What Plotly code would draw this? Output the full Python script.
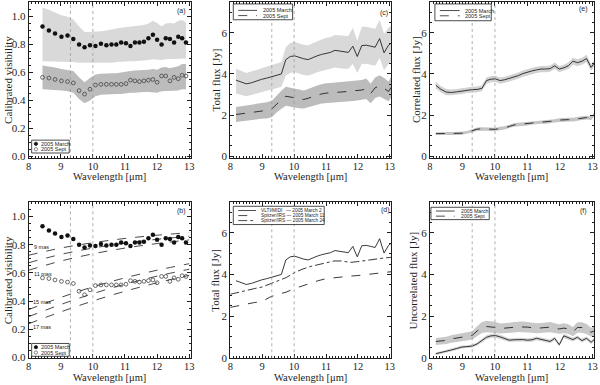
import plotly.graph_objects as go

W, H = 600, 385
SERIF = "Liberation Serif, Times New Roman, Times, DejaVu Serif, serif"
SANS = "Liberation Sans, Arial, DejaVu Sans, sans-serif"
INK = "#1e1e1e"

# ---------------- visibility data (panels a, b) ----------------
vis_wl = [8.43, 8.63, 8.82, 9.02, 9.21, 9.39, 9.57, 9.74, 9.91, 10.08, 10.25, 10.42, 10.58, 10.73, 10.88,
          11.03, 11.17, 11.31, 11.45, 11.59, 11.73, 11.87, 12.00, 12.14, 12.27, 12.40, 12.53, 12.66, 12.78, 12.90]
vis_march = [0.93, 0.90, 0.88, 0.855, 0.865, 0.84, 0.80, 0.78, 0.795, 0.79, 0.805, 0.795, 0.80, 0.80, 0.815,
             0.81, 0.79, 0.815, 0.815, 0.82, 0.845, 0.87, 0.835, 0.80, 0.845, 0.84, 0.815, 0.855, 0.845, 0.815]
vis_march_hi = [1.065, 1.05, 1.03, 1.01, 1.00, 0.98, 0.93, 0.89, 0.89, 0.89, 0.895, 0.90, 0.91, 0.915, 0.92,
                0.925, 0.925, 0.93, 0.935, 0.94, 0.95, 0.97, 0.955, 0.93, 0.95, 0.955, 0.95, 0.97, 0.975, 0.96]
vis_march_lo = [0.68, 0.68, 0.68, 0.68, 0.675, 0.675, 0.67, 0.665, 0.665, 0.665, 0.67, 0.67, 0.67, 0.675, 0.675,
                0.68, 0.68, 0.68, 0.685, 0.685, 0.69, 0.695, 0.695, 0.69, 0.695, 0.695, 0.695, 0.70, 0.70, 0.70]
vis_sept = [0.565, 0.56, 0.55, 0.54, 0.535, 0.525, 0.47, 0.445, 0.48, 0.51, 0.515, 0.515, 0.515, 0.515, 0.515,
            0.52, 0.545, 0.54, 0.535, 0.54, 0.545, 0.55, 0.53, 0.575, 0.575, 0.54, 0.565, 0.555, 0.58, 0.575]
vis_sept_hi = [0.65, 0.645, 0.635, 0.625, 0.62, 0.61, 0.565, 0.53, 0.56, 0.585, 0.59, 0.595, 0.595, 0.595, 0.60,
               0.60, 0.61, 0.615, 0.615, 0.62, 0.62, 0.625, 0.62, 0.635, 0.64, 0.63, 0.64, 0.645, 0.66, 0.66]
vis_sept_lo = [0.48, 0.48, 0.475, 0.47, 0.465, 0.455, 0.41, 0.38, 0.40, 0.43, 0.44, 0.44, 0.445, 0.445, 0.445,
               0.45, 0.455, 0.455, 0.455, 0.46, 0.46, 0.46, 0.455, 0.465, 0.47, 0.465, 0.47, 0.47, 0.48, 0.48]

# model curves (panel b)
model_wl = [8, 9, 10, 11, 12, 13]
model_9mas = [0.725, 0.776, 0.814, 0.844, 0.867, 0.885]
model_10mas = [0.672, 0.731, 0.776, 0.811, 0.838, 0.860]
model_11mas = [0.619, 0.684, 0.735, 0.776, 0.808, 0.834]
model_15mas = [0.340, 0.426, 0.501, 0.565, 0.619, 0.665]
model_16mas = [0.290, 0.376, 0.453, 0.520, 0.577, 0.626]
model_17mas = [0.240, 0.324, 0.401, 0.470, 0.530, 0.583]

# ---------------- flux data (panels c, d, e, f) ----------------
flux_wl = [8.18, 8.34, 8.50, 8.66, 8.82, 8.98, 9.14, 9.30, 9.45, 9.60, 9.74, 9.88, 10.02, 10.16, 10.30, 10.44,
           10.58, 10.72, 10.86, 11.00, 11.14, 11.28, 11.42, 11.56, 11.70, 11.84, 11.98, 12.12, 12.26, 12.40,
           12.54, 12.68, 12.82, 12.96, 13.08]
tot_march = [3.70, 3.60, 3.52, 3.57, 3.66, 3.74, 3.80, 3.86, 3.92, 4.00, 4.70, 4.85, 4.88, 4.80, 4.74, 4.70,
             4.80, 4.88, 4.95, 5.00, 5.05, 5.15, 5.12, 5.07, 5.05, 5.35, 4.85, 5.38, 5.40, 5.35,
             5.30, 5.72, 5.03, 5.40, 5.55]
tot_march_hi = [4.25, 4.15, 4.05, 4.12, 4.20, 4.28, 4.35, 4.42, 4.48, 4.58, 5.30, 5.50, 5.55, 5.48, 5.42, 5.40,
                5.50, 5.60, 5.68, 5.75, 5.80, 5.90, 5.88, 5.85, 5.85, 6.25, 5.62, 6.30, 6.30, 6.25,
                6.20, 6.62, 5.95, 6.25, 6.40]
tot_march_lo = [3.05, 2.98, 2.92, 2.98, 3.05, 3.12, 3.18, 3.24, 3.30, 3.38, 3.92, 4.05, 4.08, 4.00, 3.95, 3.92,
                4.00, 4.08, 4.15, 4.20, 4.25, 4.32, 4.30, 4.26, 4.25, 4.48, 4.05, 4.48, 4.50, 4.45,
                4.40, 4.78, 4.18, 4.50, 4.62]
tot_sept = [2.03, 2.06, 2.10, 2.13, 2.17, 2.20, 2.23, 2.30, 2.55, 2.75, 2.92, 2.88, 2.82, 2.78, 2.76, 2.82,
            2.90, 2.97, 3.03, 3.07, 3.08, 3.10, 3.12, 3.14, 3.15, 3.18, 3.20, 3.22, 3.28, 3.05,
            3.33, 3.42, 3.30, 3.15, 3.45]
tot_sept_err = [0.36, 0.36, 0.37, 0.37, 0.38, 0.38, 0.39, 0.40, 0.42, 0.44, 0.46, 0.45, 0.45, 0.44, 0.44, 0.45,
                0.46, 0.47, 0.47, 0.48, 0.48, 0.48, 0.48, 0.48, 0.48, 0.49, 0.49, 0.49, 0.50, 0.47,
                0.50, 0.52, 0.50, 0.48, 0.52]
corr_march = [3.45, 3.25, 3.12, 3.10, 3.13, 3.17, 3.21, 3.24, 3.25, 3.30, 3.68, 3.75, 3.76, 3.68, 3.72, 3.78,
              3.84, 3.92, 4.02, 4.10, 4.15, 4.20, 4.24, 4.24, 4.26, 4.40, 4.24, 4.30, 4.40, 4.62,
              4.55, 4.62, 4.75, 4.32, 4.58]
corr_march_err = [0.16, 0.15, 0.15, 0.14, 0.14, 0.14, 0.14, 0.14, 0.14, 0.14, 0.15, 0.15, 0.15, 0.15, 0.15, 0.15,
                  0.15, 0.15, 0.15, 0.15, 0.15, 0.15, 0.15, 0.15, 0.15, 0.16, 0.15, 0.15, 0.16, 0.17,
                  0.16, 0.17, 0.18, 0.16, 0.17]
corr_sept = [1.10, 1.10, 1.10, 1.10, 1.11, 1.12, 1.16, 1.23, 1.32, 1.33, 1.32, 1.30, 1.31, 1.35, 1.38, 1.45,
             1.52, 1.55, 1.57, 1.58, 1.62, 1.65, 1.66, 1.66, 1.68, 1.72, 1.76, 1.78, 1.78, 1.78,
             1.80, 1.85, 1.88, 1.85, 2.08]
corr_sept_err = [0.07, 0.07, 0.07, 0.07, 0.07, 0.07, 0.07, 0.07, 0.08, 0.08, 0.08, 0.08, 0.08, 0.08, 0.08, 0.08,
                 0.08, 0.08, 0.08, 0.08, 0.08, 0.08, 0.08, 0.08, 0.08, 0.08, 0.09, 0.09, 0.09, 0.09,
                 0.09, 0.09, 0.09, 0.09, 0.10]
unc_sept = [0.78, 0.80, 0.83, 0.90, 0.95, 0.98, 1.02, 1.07, 1.28, 1.45, 1.50, 1.48, 1.45, 1.40, 1.41, 1.44,
            1.46, 1.48, 1.49, 1.47, 1.44, 1.41, 1.43, 1.46, 1.47, 1.42, 1.38, 1.42, 1.38, 1.25,
            1.45, 1.45, 1.38, 1.22, 1.30]
unc_sept_err = [0.17, 0.17, 0.17, 0.18, 0.18, 0.18, 0.19, 0.20, 0.23, 0.26, 0.28, 0.27, 0.26, 0.24, 0.24, 0.24,
                0.25, 0.25, 0.25, 0.25, 0.24, 0.24, 0.24, 0.25, 0.25, 0.24, 0.23, 0.24, 0.23, 0.22,
                0.25, 0.25, 0.24, 0.22, 0.23]
unc_march = [0.19, 0.24, 0.30, 0.37, 0.44, 0.51, 0.53, 0.56, 0.66, 0.82, 0.98, 1.05, 1.06, 1.00, 0.92, 0.84,
             0.86, 0.88, 0.87, 0.84, 0.86, 0.93, 0.88, 0.82, 0.78, 0.93, 0.62, 1.05, 0.95, 0.87,
             0.98, 0.82, 0.93, 0.74, 0.90]
unc_march_err = [0.06, 0.06, 0.07, 0.07, 0.07, 0.07, 0.07, 0.07, 0.08, 0.09, 0.10, 0.10, 0.10, 0.10, 0.09, 0.09,
                 0.09, 0.09, 0.09, 0.09, 0.09, 0.09, 0.09, 0.09, 0.09, 0.09, 0.08, 0.10, 0.09, 0.09,
                 0.09, 0.09, 0.09, 0.08, 0.09]

# Spitzer spectra (panel d)
irs_wl = [8.0, 8.25, 8.5, 8.75, 9.0, 9.25, 9.5, 9.75, 10.0, 10.25, 10.5, 10.75, 11.0, 11.25, 11.5,
          11.75, 12.0, 12.25, 12.5, 12.75, 13.0, 13.08]
irs_mar11 = [2.42, 2.50, 2.57, 2.65, 2.70, 2.92, 3.05, 3.15, 3.32, 3.45, 3.58, 3.70, 3.80, 3.85, 3.90,
             3.92, 3.95, 4.00, 4.05, 4.10, 4.13, 4.14]
irs_mar24 = [3.05, 3.15, 3.25, 3.32, 3.40, 3.55, 3.70, 3.85, 4.08, 4.25, 4.38, 4.48, 4.55, 4.65, 4.65,
             4.58, 4.62, 4.68, 4.73, 4.78, 4.82, 4.83]

x_ticks = [8, 9, 10, 11, 12, 13]
vis_ticks = [0.0, 0.2, 0.4, 0.6, 0.8, 1.0]
flux_ticks = [0, 2, 4, 6]
marker_lines = [9.3, 10.0]

# ---------------- layout helpers ----------------
boxes = {1: (26, 2, 190, 160), 2: (230, 2, 393, 160), 3: (432, 2, 598, 160),
         4: (26, 205, 190, 363), 5: (230, 205, 393, 363), 6: (432, 205, 598, 363)}
yranges = {1: [-0.012, 1.105], 2: [-0.08, 7.5], 3: [-0.08, 7.5],
           4: [-0.005, 1.1], 5: [-0.03, 7.47], 6: [-0.03, 7.47]}


def sfx(n):
    return "" if n == 1 else str(n)


def PX(p):
    return p / W


def PY(p):
    return 1 - p / H


fig = go.Figure()
common = dict(ticks="inside", ticklen=4, tickwidth=1, tickcolor=INK, mirror="allticks", showline=True,
              linecolor=INK, linewidth=1, showgrid=False, zeroline=False)
for n, (l, t, r, b) in boxes.items():
    is_vis = n in (1, 4)
    fig.update_layout(**{
        "xaxis" + sfx(n): dict(domain=[PX(l), PX(r)], anchor="y" + sfx(n), range=[8, 13.05],
                               tickvals=x_ticks, ticktext=[str(v) for v in x_ticks],
                               tickfont=dict(family=SERIF, size=10.5, color=INK), ticklabelstandoff=-2,
                               minor=dict(ticks="inside", ticklen=2, dtick=0.1, tick0=8, tickcolor=INK, showgrid=False),
                               **common),
        "yaxis" + sfx(n): dict(domain=[PY(b), PY(t)], anchor="x" + sfx(n), range=yranges[n],
                               tickvals=vis_ticks if is_vis else flux_ticks,
                               ticktext=[f"{v:.1f}" for v in vis_ticks] if is_vis else [str(v) for v in flux_ticks],
                               tickfont=dict(family=SERIF, size=11, color=INK),
                               minor=dict(ticks="inside", ticklen=2, dtick=0.05 if is_vis else 0.5, tick0=0,
                                          tickcolor=INK, showgrid=False),
                               **common),
    })


def add(n, **kw):
    fig.add_trace(go.Scatter(xaxis="x" + sfx(n), yaxis="y" + sfx(n), showlegend=False, hoverinfo="skip", **kw))


def band(n, x, lo, hi, color):
    add(n, x=list(x) + list(x)[::-1], y=list(hi) + list(lo)[::-1], mode="lines", fill="toself",
        fillcolor=color, line=dict(width=0))


def pm(v, e, s):
    return [a + s * b for a, b in zip(v, e)]


LIGHT = "#d9d9d9"
DARK = "#bcbcbc"
OPEN = dict(size=3.8, color="#444", symbol="circle-open", line=dict(width=0.8))
FILLED = dict(size=4.5, color="#111", symbol="circle")

# (a)
band(1, vis_wl, vis_march_lo, vis_march_hi, LIGHT)
band(1, vis_wl, vis_sept_lo, vis_sept_hi, DARK)
add(1, x=vis_wl, y=vis_march, mode="markers", marker=FILLED)
add(1, x=vis_wl, y=vis_sept, mode="markers", marker=OPEN)

# (b)
for m in (model_9mas, model_10mas, model_11mas, model_15mas, model_16mas, model_17mas):
    add(4, x=model_wl, y=m, mode="lines", line=dict(color="#333", width=0.9, dash="dash", shape="spline"))
add(4, x=vis_wl, y=vis_march, mode="markers", marker=FILLED)
add(4, x=vis_wl, y=vis_sept, mode="markers", marker=OPEN)

# (c)
band(2, flux_wl, tot_march_lo, tot_march_hi, LIGHT)
band(2, flux_wl, pm(tot_sept, tot_sept_err, -1), pm(tot_sept, tot_sept_err, 1), DARK)
add(2, x=flux_wl, y=tot_march, mode="lines", line=dict(color="#222", width=0.9))
add(2, x=flux_wl, y=tot_sept, mode="lines", line=dict(color="#222", width=0.9, dash="dash"))

# (d)
add(5, x=flux_wl, y=tot_march, mode="lines", line=dict(color="#222", width=0.9))
add(5, x=irs_wl, y=irs_mar11, mode="lines", line=dict(color="#222", width=0.9, dash="dash"))
add(5, x=irs_wl, y=irs_mar24, mode="lines", line=dict(color="#222", width=0.9, dash="dashdot"))

# (e)
band(3, flux_wl, pm(corr_march, corr_march_err, -1), pm(corr_march, corr_march_err, 1), "#d2d2d2")
band(3, flux_wl, pm(corr_sept, corr_sept_err, -1), pm(corr_sept, corr_sept_err, 1), "#c4c4c4")
add(3, x=flux_wl, y=corr_march, mode="lines", line=dict(color="#222", width=0.9))
add(3, x=flux_wl, y=corr_sept, mode="lines", line=dict(color="#222", width=0.9, dash="dash"))

# (f)
band(6, flux_wl, pm(unc_sept, unc_sept_err, -1), pm(unc_sept, unc_sept_err, 1), "#c8c8c8")
band(6, flux_wl, pm(unc_march, unc_march_err, -1), pm(unc_march, unc_march_err, 1), "#d6d6d6")
add(6, x=flux_wl, y=unc_march, mode="lines", line=dict(color="#222", width=0.9))
add(6, x=flux_wl, y=unc_sept, mode="lines", line=dict(color="#222", width=0.9, dash="dash"))

shapes = []
annotations = []

# vertical dotted marker lines
for n in boxes:
    for xv in marker_lines:
        shapes.append(dict(type="line", xref="x" + sfx(n), yref="y" + sfx(n) + " domain", x0=xv, x1=xv,
                           y0=0, y1=1, line=dict(color="#9a9a9a", width=0.8, dash="dot"), layer="above"))


def rect(x0, y0, x1, y1):
    shapes.append(dict(type="rect", xref="paper", yref="paper", x0=PX(x0), x1=PX(x1), y0=PY(y1), y1=PY(y0),
                       line=dict(color=INK, width=0.8), fillcolor="white", layer="above"))


def seg(x0, x1, y, dash):
    shapes.append(dict(type="line", xref="paper", yref="paper", x0=PX(x0), x1=PX(x1), y0=PY(y), y1=PY(y),
                       line=dict(color=INK, width=0.8, dash=dash), layer="above"))


def dot(x, y, filled):
    r = 1.7
    shapes.append(dict(type="circle", xref="paper", yref="paper", x0=PX(x - r), x1=PX(x + r),
                       y0=PY(y + r), y1=PY(y - r), fillcolor="#111" if filled else "white",
                       line=dict(color="#111" if filled else "#555", width=0.7), layer="above"))


def text(x, y, s, size=6, family=SANS, xanchor="left", angle=0, color=INK):
    annotations.append(dict(x=PX(x), y=PY(y), xref="paper", yref="paper", text=s, showarrow=False,
                            xanchor=xanchor, yanchor="middle", textangle=angle,
                            font=dict(family=family, size=size, color=color)))


# legends
for top in (142, 348):
    rect(29, top, 67, top + 13)
    dot(33.3, top + 3.7, True)
    dot(33.3, top + 9.2, False)
    text(36.5, top + 3.7, "2005 March", size=5.5)
    text(36.5, top + 9.2, "2005 Sept", size=5.5)

rect(233, 4, 293, 20)
seg(238, 257, 10.5, "solid")
seg(238, 257, 15.8, "dash")
text(261, 10.5, "2005 March", size=5.5)
text(261, 15.8, "2005 Sept", size=5.5)

rect(437, 4, 494, 21)
seg(442, 462, 10.7, "solid")
seg(442, 462, 16.0, "dash")
text(465, 10.7, "2005 March", size=5.5)
text(465, 16.0, "2005 Sept", size=5.5)

rect(233, 209, 325, 227.5)
seg(238, 256, 213.3, "solid")
seg(238, 256, 218.4, "dash")
seg(238, 256, 223.5, "dashdot")
text(259, 213.3, "VLTI/MIDI   \u2014 2005 March 2", size=4.8)
text(259, 218.4, "Spitzer/IRS \u2014 2005 March 11", size=4.8)
text(259, 223.5, "Spitzer/IRS \u2014 2005 March 24", size=4.8)

rect(433, 210, 492, 222.5)
seg(438, 457, 213.8, "solid")
seg(438, 457, 219.0, "dash")
text(461, 213.8, "2005 March", size=5.2)
text(461, 219.0, "2005 Sept", size=5.2)

# panel labels
text(180.5, 10.7, "(a)", size=7, xanchor="center")
text(385, 13, "(c)", size=7, xanchor="center")
text(587, 9.3, "(e)", size=7, xanchor="center")
text(180.5, 214, "(b)", size=7, xanchor="center")
text(387, 212.7, "(d)", size=7, xanchor="center")
text(587, 214, "(f)", size=7, xanchor="center")

# model labels (panel b)
text(39.3, 250, "9 mas", size=5.5, xanchor="center")
text(40, 277.3, "11 mas", size=5.5, xanchor="center")
text(39.3, 305.7, "15 mas", size=5.5, xanchor="center")
text(39.3, 331.7, "17 mas", size=5.5, xanchor="center")

# axis titles
for n, (l, t, r, b) in boxes.items():
    text((l + r) / 2, b + 19, "Wavelength [\u03bcm]", size=10.5, family=SERIF, xanchor="center")
ytitles = {1: (5, "Calibrated visibility"), 2: (215, "Total flux [Jy]"), 3: (418, "Correlated flux [Jy]"),
           4: (5, "Calibrated visibility"), 5: (215, "Total flux [Jy]"), 6: (415, "Uncorrelated flux [Jy]")}
for n, (xp, s) in ytitles.items():
    l, t, r, b = boxes[n]
    text(xp, (t + b) / 2, s, size=11, family=SERIF, xanchor="center", angle=-90)

fig.update_layout(width=W, height=H, margin=dict(l=0, r=0, t=0, b=0), paper_bgcolor="white",
                  plot_bgcolor="white", shapes=shapes, annotations=annotations, showlegend=False)
fig.write_html("out.html", config={"displayModeBar": False},
               post_script="document.body.style.margin='0';document.body.style.padding='0';")
